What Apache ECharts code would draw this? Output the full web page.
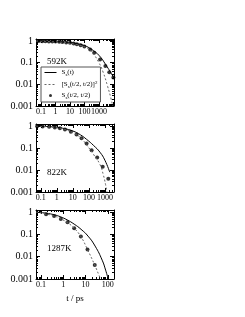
<!DOCTYPE html>
<html><head><meta charset="utf-8">
<script src="https://cdn.jsdelivr.net/npm/echarts@6/dist/echarts.min.js"></script>
<style>html,body{margin:0;padding:0;background:#fff}#c{width:245px;height:317px}</style>
</head><body><div id="c"></div>
<script>
// ---- labels ----
const panelLabels = ['592K', '822K', '1287K'];
const xTickLabels = [['0.1','1','10','100','1000'], ['0.1','1','10','100','1000'], ['0.1','1','10','100']];
const yTickLabels = ['0.001','0.01','0.1','1'];
const legendNames = ['S_s(t)', '[S_s(t/2, t/2)]^2', 'S_s(t/2, t/2)'];
const xAxisTitle = 't / ps';

// ---- 592K ----
const t1Solid = [0.045, 0.1, 0.3, 1, 3, 10, 30, 100, 300, 1000, 3000, 10000, 11000];
const s1Solid = [1.0, 0.99, 0.97, 0.95, 0.91, 0.85, 0.76, 0.62, 0.42, 0.22, 0.08, 0.022, 0.019];
const t1Dash = [0.045, 0.1, 0.3, 1, 3, 10, 30, 100, 300, 1000, 2000, 4000, 6500, 9000];
const s1Dash = [1.0, 0.98, 0.96, 0.93, 0.88, 0.8, 0.69, 0.55, 0.33, 0.1, 0.035, 0.008, 0.0025, 0.001];
const t1Dot = [0.07, 0.12, 0.2, 0.35, 0.6, 1, 1.8, 3, 5.5, 10, 18, 30, 55, 100, 250, 470, 1200, 2800, 5200, 10000];
const s1Dot = [1.0, 0.99, 0.98, 0.97, 0.96, 0.95, 0.93, 0.9, 0.87, 0.83, 0.78, 0.72, 0.64, 0.56, 0.41, 0.29, 0.14, 0.07, 0.036, 0.021];

// ---- 822K ----
const t2Solid = [0.05, 0.1, 0.3, 1, 3, 10, 30, 72, 200, 490, 1000, 2000];
const s2Solid = [1.0, 0.98, 0.95, 0.88, 0.77, 0.6, 0.4, 0.25, 0.13, 0.065, 0.028, 0.008];
const t2Dash = [0.05, 0.1, 0.3, 1, 3, 10, 30, 72, 200, 490, 800, 1100, 1350];
const s2Dash = [1.0, 0.97, 0.93, 0.85, 0.72, 0.5, 0.3, 0.14, 0.05, 0.018, 0.006, 0.0022, 0.001];
const t2Dot = [0.059, 0.13, 0.33, 0.75, 1.55, 3.2, 7.5, 17, 35, 72, 148, 330, 730, 1630];
const s2Dot = [0.99, 0.97, 0.93, 0.87, 0.8, 0.7, 0.56, 0.42, 0.28, 0.16, 0.08, 0.037, 0.014, 0.004];

// ---- 1287K ----
const t3Solid = [0.06, 0.17, 0.4, 0.72, 1.5, 3.1, 6.3, 13, 27, 56, 80, 104];
const s3Solid = [1.0, 0.9, 0.76, 0.63, 0.45, 0.29, 0.17, 0.084, 0.03, 0.007, 0.0025, 0.001];
const t3Dash = [0.06, 0.17, 0.39, 0.78, 1.56, 3.1, 6.2, 12.3, 26, 40, 48];
const s3Dash = [1.0, 0.82, 0.68, 0.5, 0.34, 0.19, 0.08, 0.021, 0.0042, 0.0015, 0.001];
const t3Dot = [0.17, 0.39, 0.78, 1.56, 3.1, 6.2, 12.3, 26];
const s3Dot = [0.8, 0.68, 0.49, 0.35, 0.19, 0.081, 0.021, 0.0042];

const FONT = 'Liberation Serif';
const zip = (a, b) => a.map((v, i) => [v, b[i]]);
const lab = list => v => {
  for (const s of list) if (Math.abs(Math.log10(v) - Math.log10(+s)) < 1e-6) return s;
  return '';
};

const panels = [
  {xr: [0.045, 11000], top: 39, h: 67, solid: zip(t1Solid, s1Solid), dash: zip(t1Dash, s1Dash), dot: zip(t1Dot, s1Dot)},
  {xr: [0.05, 3700], top: 124, h: 68, solid: zip(t2Solid, s2Solid), dash: zip(t2Dash, s2Dash), dot: zip(t2Dot, s2Dot)},
  {xr: [0.06, 190], top: 210, h: 69, solid: zip(t3Solid, s3Solid), dash: zip(t3Dash, s3Dash), dot: zip(t3Dot, s3Dot)}
];
const yr = [0.001, 1.25];

const grid = [], xAxis = [], yAxis = [], series = [], graphic = [];
const tickCommon = {
  axisLine: {show: true, onZero: false, lineStyle: {color: '#000', width: 1}},
  axisTick: {show: true, inside: true, length: 4, lineStyle: {color: '#000', width: 1}},
  minorTick: {show: true, splitNumber: 9, length: 2, lineStyle: {color: '#000', width: 1}},
  splitLine: {show: false}, minorSplitLine: {show: false}
};
panels.forEach((p, i) => {
  grid.push({left: 36, top: p.top, width: 78, height: p.h, show: false});
  const xb = Object.assign({type: 'log', logBase: 10, gridIndex: i, min: p.xr[0], max: p.xr[1], position: 'bottom', splitNumber: 6,
    axisLabel: {show: true, formatter: lab(xTickLabels[i]), fontFamily: FONT, fontSize: 8, color: '#000', margin: 2}}, tickCommon);
  if (i === 2) Object.assign(xb, {name: xAxisTitle, nameLocation: 'middle', nameGap: 15, nameTextStyle: {fontFamily: FONT, fontSize: 9, color: '#000'}});
  xAxis.push(xb);
  xAxis.push(Object.assign({type: 'log', logBase: 10, gridIndex: i, min: p.xr[0], max: p.xr[1], position: 'top', splitNumber: 6,
    axisLabel: {show: false}}, tickCommon));
  yAxis.push(Object.assign({type: 'log', logBase: 10, gridIndex: i, min: yr[0], max: yr[1], position: 'left', splitNumber: 4,
    axisLabel: {show: true, formatter: lab(yTickLabels), fontFamily: FONT, fontSize: 10, color: '#000', margin: 3}}, tickCommon));
  yAxis.push(Object.assign({type: 'log', logBase: 10, gridIndex: i, min: yr[0], max: yr[1], position: 'right', splitNumber: 4,
    axisLabel: {show: false}}, tickCommon));
  series.push({name: legendNames[0], type: 'line', xAxisIndex: 2*i, yAxisIndex: 2*i, data: p.solid, smooth: true, symbol: 'none',
    lineStyle: {color: '#000', width: 1}, itemStyle: {color: '#000'}, clip: true});
  series.push({name: legendNames[1], type: 'line', xAxisIndex: 2*i, yAxisIndex: 2*i, data: p.dash, smooth: true, symbol: 'none',
    lineStyle: {color: '#666', width: 1, type: [2, 2]}, itemStyle: {color: '#666'}, clip: true});
  series.push({name: legendNames[2], type: 'scatter', xAxisIndex: 2*i, yAxisIndex: 2*i, data: p.dot, symbol: 'circle', symbolSize: 4,
    itemStyle: {color: '#000'}});
  graphic.push({type: 'text', left: 47, top: p.top + (i === 0 ? 18 : i === 1 ? 44 : 34),
    style: {text: panelLabels[i], font: '9px "Liberation Serif"', fill: '#000'}});
});

const legendRich = {
  [legendNames[0]]: '{a|S}{b|s}{a|(t)}',
  [legendNames[1]]: '{a|[S}{b|s}{a|(t/2, t/2)]}{c|2}',
  [legendNames[2]]: '{a|S}{b|s}{a|(t/2, t/2)}'
};

const chart = echarts.init(document.getElementById('c'), null, {renderer: 'canvas'});
chart.setOption({
  animation: false,
  backgroundColor: '#fff',
  grid, xAxis, yAxis, series, graphic,
  legend: {
    data: [
      {name: legendNames[0], itemStyle: {opacity: 0}, lineStyle: {color: '#000', width: 1}},
      {name: legendNames[1], itemStyle: {opacity: 0}, lineStyle: {color: '#666', width: 1, type: [2, 2]}},
      {name: legendNames[2], icon: 'circle', itemStyle: {color: '#000'}}
    ],
    orient: 'vertical', left: 41, top: 67,
    itemWidth: 12, itemHeight: 3, itemGap: 3,
    padding: [2, 3, 2, 3], borderColor: '#555', borderWidth: 1,
    formatter: n => legendRich[n],
    textStyle: {fontFamily: FONT, fontSize: 7, color: '#000',
      rich: {a: {fontFamily: FONT, fontSize: 7, lineHeight: 9, color: '#000'},
             b: {fontFamily: FONT, fontSize: 5, lineHeight: 5, verticalAlign: 'bottom', color: '#000'},
             c: {fontFamily: FONT, fontSize: 5, lineHeight: 5, verticalAlign: 'top', color: '#000'}}},
    selectedMode: false
  }
});
</script></body></html>
